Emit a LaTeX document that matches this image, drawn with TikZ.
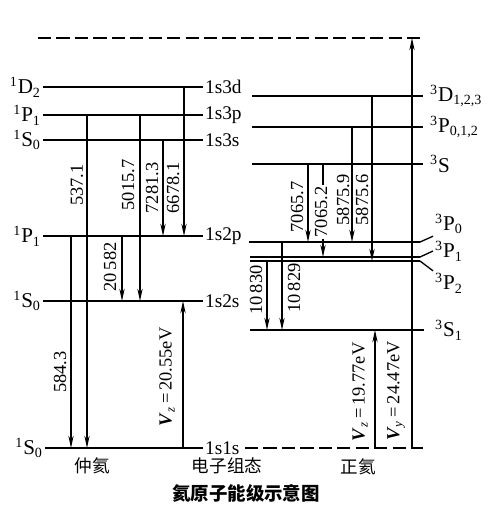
\documentclass[tikz,border=0pt]{standalone}
\usepackage{fontspec}
\setmainfont{Liberation Serif}
\newfontfamily\cjk{Noto Sans CJK SC}
\usetikzlibrary{arrows.meta,calc}

\begin{document}
\begin{tikzpicture}[
    x=0.02cm, y=-0.02cm,
    level_line/.style={line width=1.4pt},
    dash_line/.style={line width=1.4pt, dash pattern=on 7.5pt off 3pt},
    trans_arrow/.style={-{Stealth[length=7pt,width=3pt]}, line width=0.75pt},
    lead_line/.style={line width=0.75pt},
    term/.style={font=\fontsize{12}{14}\selectfont, inner sep=1pt},
    conf/.style={font=\fontsize{11}{13}\selectfont, inner sep=1pt, anchor=west},
    wave/.style={font=\fontsize{10.5}{12}\selectfont, rotate=90, inner sep=1pt},
    cn_label/.style={font=\cjk\fontsize{10}{12}\selectfont, inner sep=1pt}
]
\useasboundingbox (0,0) rectangle (500,509);

% singlet (para) levels
\coordinate (s_d3) at (43,87);  \coordinate (s_d3e) at (203,87);
\coordinate (s_p3) at (43,115); \coordinate (s_p3e) at (203,115);
\coordinate (s_s3) at (43,140); \coordinate (s_s3e) at (203,140);
\coordinate (s_p2) at (43,236); \coordinate (s_p2e) at (203,236);
\coordinate (s_s2) at (43,301); \coordinate (s_s2e) at (203,301);
\coordinate (s_g)  at (45,448); \coordinate (s_ge)  at (203,448);

% triplet (ortho) levels
\coordinate (t_d3) at (252,96);  \coordinate (t_d3e) at (423,96);
\coordinate (t_p3) at (252,127); \coordinate (t_p3e) at (423,127);
\coordinate (t_s3) at (252,164); \coordinate (t_s3e) at (423,164);
\coordinate (t_p0) at (249,242); \coordinate (t_p0e) at (420,242);
\coordinate (t_p1) at (250,257); \coordinate (t_p1e) at (420,257);
\coordinate (t_p2) at (250,261); \coordinate (t_p2e) at (420,261);
\coordinate (t_s1) at (250,330); \coordinate (t_s1e) at (424,330);
\coordinate (t_g)  at (245,448); \coordinate (t_ge)  at (423,448);
\coordinate (ion)  at (38,38);   \coordinate (ione)  at (423,38);

\foreach \a/\b in {s_d3/s_d3e, s_p3/s_p3e, s_s3/s_s3e, s_p2/s_p2e, s_s2/s_s2e, s_g/s_ge,
                   t_d3/t_d3e, t_p3/t_p3e, t_s3/t_s3e, t_p0/t_p0e, t_p1/t_p1e, t_p2/t_p2e, t_s1/t_s1e}
    \draw [level_line] (\a) -- (\b);
\draw [dash_line] (ion) -- (ione);
\draw [dash_line] (t_g) -- (t_ge);

% left terms and configurations
\node [term, anchor=east] at (s_d3) {\textsuperscript{1}D\textsubscript{2}};
\node [term, anchor=east] at (s_p3) {\textsuperscript{1}P\textsubscript{1}};
\node [term, anchor=east] at (s_s3) {\textsuperscript{1}S\textsubscript{0}};
\node [term, anchor=east] at (s_p2) {\textsuperscript{1}P\textsubscript{1}};
\node [term, anchor=east] at (s_s2) {\textsuperscript{1}S\textsubscript{0}};
\node [term, anchor=east] at (s_g)  {\textsuperscript{1}S\textsubscript{0}};
\node [conf] at (s_d3e) {1s3d};
\node [conf] at (s_p3e) {1s3p};
\node [conf] at (s_s3e) {1s3s};
\node [conf] at (s_p2e) {1s2p};
\node [conf] at (s_s2e) {1s2s};
\node [conf] at (s_ge)  {1s1s};

% right terms
\node [term, anchor=west] at ($(t_d3e)+(5,0)$) {\textsuperscript{3}D\textsubscript{1,2,3}};
\node [term, anchor=west] at ($(t_p3e)+(5,0)$) {\textsuperscript{3}P\textsubscript{0,1,2}};
\node [term, anchor=west] at ($(t_s3e)+(5,0)$) {\textsuperscript{3}S};
\node [term, anchor=west] (lb_p0) at (433,224) {\textsuperscript{3}P\textsubscript{0}};
\node [term, anchor=west] (lb_p1) at (433,251) {\textsuperscript{3}P\textsubscript{1}};
\node [term, anchor=west] (lb_p2) at (433,283) {\textsuperscript{3}P\textsubscript{2}};
\node [term, anchor=west] at ($(t_s1e)+(9,0)$) {\textsuperscript{3}S\textsubscript{1}};
\draw [lead_line] (t_p0e) -- (lb_p0.south west);
\draw [lead_line] (t_p1e) -- (lb_p1.west);
\draw [lead_line] (t_p2e) -- (lb_p2.north west);

% columns of the transitions
\coordinate (x584) at (71,0);  \coordinate (x537) at (87,0);
\coordinate (x205) at (122,0); \coordinate (x501) at (140,0);
\coordinate (x728) at (163,0); \coordinate (x667) at (184,0);
\coordinate (xvz)  at (183,0);
\coordinate (x108a) at (267,0); \coordinate (x108b) at (282,0);
\coordinate (x706a) at (308,0); \coordinate (x706b) at (323,0);
\coordinate (x587a) at (352,0); \coordinate (x587b) at (372,0);
\coordinate (xvt)  at (375,0); \coordinate (xvy)  at (412,0);

\draw [trans_arrow] (s_p3 -| x537) -- (s_g -| x537);
\draw [trans_arrow] (s_p2 -| x584) -- (s_g -| x584);
\draw [trans_arrow] (s_p3 -| x501) -- (s_s2 -| x501);
\draw [trans_arrow] (s_s3 -| x728) -- (s_p2 -| x728);
\draw [trans_arrow] (s_d3 -| x667) -- (s_p2 -| x667);
\draw [trans_arrow] (s_p2 -| x205) -- (s_s2 -| x205);
\draw [trans_arrow] (s_g -| xvz) -- (s_s2 -| xvz);

\draw [trans_arrow] (t_s3 -| x706a) -- (t_p0 -| x706a);
\draw [trans_arrow] (t_s3 -| x706b) -- (t_p1 -| x706b);
\draw [trans_arrow] (t_p3 -| x587a) -- (t_p0 -| x587a);
\draw [trans_arrow] (t_d3 -| x587b) -- (t_p2 -| x587b);
\draw [trans_arrow] (t_p2 -| x108a) -- (t_s1 -| x108a);
\draw [trans_arrow] (t_p0 -| x108b) -- (t_s1 -| x108b);
\draw [trans_arrow] (t_g -| xvt) -- (t_s1 -| xvt);
\draw [trans_arrow] (t_g -| xvy) -- (ion -| xvy);

% wavelengths and energies
\node [wave] at (77,185)  {537.1};
\node [wave] at (128,185) {5015.7};
\node [wave] at (152,188) {7281.3};
\node [wave] at (173,188) {6678.1};
\node [wave] at (110,267) {20\,582};
\node [wave] at (60,372)  {584.3};
\node [wave] at (167,377) {\textbf{\textit{V}}\textsubscript{\textit{z}}\,=\,20.55eV};
\node [wave] at (297,207) {7065.7};
\node [wave, fill=white] at (321,212) {7065.2};
\node [wave] at (343,200) {5875.9};
\node [wave] at (362,200) {5875.6};
\node [wave] at (256,290) {10\,830};
\node [wave] at (294,288) {10\,829};
\node [wave] at (360,392) {\textbf{\textit{V}}\textsubscript{\textit{z}}\,=\,19.77eV};
\node [wave] at (396,391) {\textbf{\textit{V}}\textsubscript{\textit{y}}\,=\,24.47eV};

% captions
\node [cn_label] at (92,466)  {仲氦};
\node [cn_label] at (227,466) {电子组态};
\node [cn_label] at (358,467) {正氦};
\node [cn_label, font=\cjk\bfseries\fontsize{10.5}{12}\selectfont] at (246,493) {氦原子能级示意图};
\end{tikzpicture}
\end{document}
